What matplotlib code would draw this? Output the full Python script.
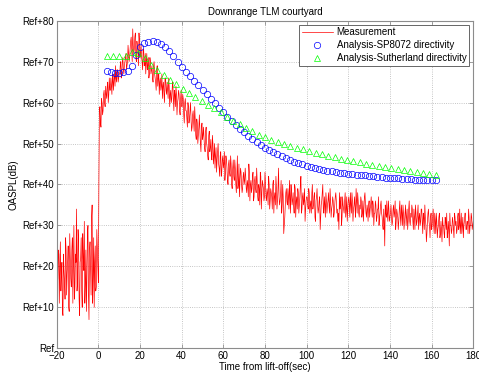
import numpy as np
import matplotlib
matplotlib.use("Agg")
import matplotlib.pyplot as plt

# =====================================
# Data
# =====================================
# measurement on the half-second grid, -20 s .. 180 s
meas_t = np.arange(-20, 180.01, 0.5)
meas_pre = [
    22, 17, 23, 20, 14, 21, 8, 19, 12, 24,
    18, 25, 9, 22, 15, 27, 20, 12, 23, 34,
    16, 26, 8, 22, 14, 28, 19, 11, 24, 17,
    30, 7, 26, 13, 35, 18, 10, 25, 15, 24,
    16,
]
meas_post = [
    58, 55, 61, 57, 62, 60, 64, 61, 65, 62, 63, 66, 62, 65, 67, 64, 66, 68, 65, 67,
    69, 66, 70, 68, 69, 71, 68, 70, 72, 71, 75, 73, 78, 72, 76, 71, 75, 72, 77, 71,
    74, 70, 73, 69, 72, 70, 68, 71, 67, 70, 68, 66, 69, 67, 65, 68, 64, 67, 65, 63,
    67, 64, 62, 66, 63, 65, 61, 64, 62, 60, 64, 61, 63, 59, 62, 60, 63, 58, 61, 59,
    62, 57, 60, 58, 56, 60, 55, 58, 56, 54, 58, 53, 56, 51, 55, 52, 57, 50, 54, 51,
    54, 49, 53, 50, 47, 52, 48, 51, 46, 50, 47, 44, 49, 46, 50, 44, 47, 42, 46, 44,
    48, 43, 46, 41, 45, 43, 47, 40, 44, 42, 46, 40, 43, 39, 45, 41, 43, 38, 42, 40,
    44, 39, 41, 37, 43, 40, 38, 42, 36, 41, 39, 44, 37, 40, 35, 42, 38, 40, 36, 43,
    37, 39, 35, 40, 36, 38, 34, 41, 37, 35, 39, 36, 44, 35, 38, 33, 40, 28, 32, 38,
    36, 39, 34, 37, 40, 35, 38, 33, 39, 36, 34, 38, 35, 40, 33, 37, 35, 39, 34, 37,
    35, 39, 33, 36, 38, 34, 37, 32, 36, 39, 33, 36, 29, 35, 38, 34, 37, 32, 36, 35,
    38, 33, 36, 34, 37, 32, 35, 38, 33, 31, 29, 34, 37, 32, 35, 33, 38, 34, 31, 36,
    35, 38, 33, 36, 34, 37, 32, 36, 38, 33, 35, 37, 32, 36, 34, 38, 33, 35, 31, 36,
    34, 37, 32, 35, 33, 36, 31, 34, 37, 32, 35, 33, 30, 34, 25, 33, 36, 31, 34, 32,
    35, 30, 34, 32, 36, 31, 33, 29, 34, 32, 35, 30, 33, 31, 35, 32, 29, 34, 31, 33,
    35, 31, 34, 29, 33, 31, 35, 32, 30, 34, 31, 33, 29, 32, 26, 31, 34, 30, 32, 29,
    32, 30, 33, 28, 31, 29, 32, 27, 31, 26, 30, 28, 32, 29, 27, 31, 25, 30, 28, 32,
    29, 33, 30, 28, 32, 29, 34, 30, 28, 32, 30, 33, 29, 31, 28, 32, 30, 33, 29, 31,
]
meas_db = meas_pre + meas_post

# measurement samples in between (the quarter points), -19.75 s .. 179.75 s
mid_t = np.arange(-19.75, 180, 0.5)
mid_pre = [
    15, 24, 11, 26, 18, 9, 23, 16, 27, 13,
    21, 10, 28, 17, 24, 11, 30, 15, 21, 14,
    29, 12, 21, 27, 10, 22, 31, 16, 9, 28,
    13, 24, 19, 32, 11, 27, 21, 14, 29, 20,
]
mid_post = [
    40, 59, 54, 60, 58, 63, 59, 62, 64, 60, 66, 63, 64, 67, 63, 66, 69, 65, 68, 66,
    67, 70, 67, 71, 67, 70, 72, 69, 74, 70, 73, 76, 70, 74, 73, 77, 70, 74, 69, 75,
    72, 71, 68, 73, 69, 67, 72, 69, 66, 71, 67, 69, 65, 70, 66, 63, 69, 66, 62, 66,
    64, 61, 65, 60, 66, 62, 63, 66, 59, 63, 61, 65, 58, 62, 64, 57, 61, 62, 57, 63,
    59, 61, 55, 61, 58, 54, 59, 56, 60, 53, 57, 55, 59, 52, 56, 50, 54, 53, 48, 55,
    52, 51, 48, 54, 49, 46, 53, 49, 47, 52, 45, 50, 47, 43, 48, 45, 42, 48, 43, 47,
    45, 41, 47, 44, 40, 46, 42, 45, 39, 46, 41, 44, 38, 47, 40, 37, 44, 40, 39, 43,
    41, 42, 38, 40, 45, 36, 41, 39, 43, 37, 42, 38, 41, 36, 39, 43, 34, 41, 39, 37,
    40, 36, 38, 42, 34, 39, 37, 40, 33, 38, 42, 34, 39, 37, 36, 41, 35, 37, 30, 35,
    39, 35, 37, 41, 33, 38, 36, 35, 40, 32, 37, 39, 33, 37, 42, 34, 38, 36, 31, 36,
    37, 34, 38, 35, 33, 40, 35, 38, 31, 37, 35, 34, 37, 32, 36, 40, 33, 35, 38, 33,
    36, 35, 39, 32, 35, 36, 33, 37, 36, 34, 33, 38, 35, 30, 37, 34, 36, 32, 37, 34,
    37, 32, 35, 38, 31, 35, 34, 39, 33, 36, 32, 34, 36, 33, 31, 37, 35, 32, 34, 35,
    32, 35, 34, 36, 30, 33, 35, 32, 34, 30, 33, 36, 32, 29, 31, 35, 32, 33, 36, 31,
    33, 32, 31, 35, 33, 29, 34, 32, 31, 36, 30, 33, 35, 29, 33, 30, 34, 31, 36, 30,
    32, 34, 29, 32, 35, 30, 33, 29, 33, 31, 34, 28, 32, 35, 30, 28, 33, 31, 27, 33,
    30, 34, 28, 31, 33, 27, 30, 33, 28, 29, 32, 30, 27, 31, 33, 28, 29, 33, 30, 29,
    31, 27, 32, 31, 29, 33, 30, 28, 33, 30, 27, 31, 33, 29, 31, 34, 28, 30, 32, 30,
]
mid_db = mid_pre + mid_post

# analysis with SP8072 directivity
sp_t = np.arange(4, 162.01, 2)
sp_db = [
    67.6, 67.4, 67.3, 67.3, 67.4, 67.8, 69.0, 71.6, 73.6, 74.5,
    74.9, 75.0, 74.8, 74.3, 73.5, 72.5, 71.3, 70.0, 68.7, 67.5,
    66.4, 65.3, 64.2, 63.1, 62.0, 60.9, 59.8, 58.7, 57.6, 56.6,
    55.6, 54.6, 53.6, 52.7, 51.8, 51.0, 50.3, 49.6, 49.0, 48.4,
    47.9, 47.4, 46.9, 46.4, 46.0, 45.6, 45.2, 44.9, 44.6, 44.3,
    44.0, 43.8, 43.6, 43.4, 43.2, 43.0, 42.9, 42.7, 42.6, 42.5,
    42.4, 42.3, 42.2, 42.1, 42.0, 41.9, 41.8, 41.7, 41.6, 41.5,
    41.5, 41.4, 41.3, 41.3, 41.2, 41.2, 41.1, 41.1, 41.0, 41.0,
]

# analysis with Sutherland directivity
su_t = np.linspace(4, 162, 53)
su_db = [
    71.3, 71.3, 71.3, 71.4, 72.4, 72.0, 70.8, 69.3, 68.0, 66.8,
    65.6, 64.5, 63.3, 62.3, 61.4, 60.5, 59.5, 58.6, 57.6, 56.6,
    55.6, 54.7, 53.8, 53.0, 52.2, 51.5, 50.9, 50.4, 49.9, 49.5,
    49.0, 48.6, 48.2, 47.8, 47.4, 47.0, 46.7, 46.3, 46.0, 45.7,
    45.4, 45.1, 44.8, 44.5, 44.2, 44.0, 43.7, 43.5, 43.2, 43.0,
    42.8, 42.5, 42.3,
]

x_ticks = list(range(-20, 181, 20))
y_ticks = list(range(0, 81, 10))
y_labels = ["Ref"] + ["Ref+%d" % v for v in y_ticks[1:]]

# merge both measurement grids into one time-ordered trace
all_t = np.concatenate([meas_t, mid_t])
all_db = np.concatenate([meas_db, mid_db])
order = np.argsort(all_t)
all_t = all_t[order]
all_db = all_db[order]

# =====================================
# Plot
# =====================================
plt.rcParams["font.family"] = ["Liberation Sans", "DejaVu Sans"]
plt.rcParams["font.size"] = 7

fig = plt.figure(figsize=(4.79, 3.74), dpi=100)
ax = fig.add_axes([0.1184, 0.0687, 0.8696, 0.876])

ax.plot(all_t, all_db, color="red", linewidth=0.5, label="Measurement")
ax.plot(sp_t, sp_db, linestyle="none", marker="o", markersize=4.6,
        markerfacecolor="none", markeredgecolor="blue", markeredgewidth=0.5,
        label="Analysis-SP8072 directivity")
ax.plot(su_t, su_db, linestyle="none", marker="^", markersize=4.6,
        markerfacecolor="none", markeredgecolor="#00ff00", markeredgewidth=0.5,
        label="Analysis-Sutherland directivity")

ax.set_xlim(-20, 180)
ax.set_ylim(0, 80)
ax.set_xticks(x_ticks)
ax.set_yticks(y_ticks)
ax.set_yticklabels(y_labels)
ax.tick_params(direction="in", length=3, width=0.5, top=True, right=True,
               colors="0.5", labelcolor="black", pad=2)
ax.grid(True, linestyle=":", color="0.7", linewidth=0.6)
for s in ax.spines.values():
    s.set_color("0.55")
    s.set_linewidth(0.8)

ax.set_title("Downrange TLM courtyard", fontsize=7, pad=4)
ax.set_xlabel("Time from lift-off(sec)", labelpad=1)
ax.set_ylabel("OASPL(dB)", labelpad=3)

leg = ax.legend(loc="upper right", fontsize=7, fancybox=False,
                edgecolor="0.3", framealpha=1, handlelength=3.2,
                handletextpad=0.4, borderaxespad=0.4, labelspacing=0.3,
                borderpad=0.3)
leg.get_frame().set_linewidth(0.6)

plt.savefig("out.png", dpi=100)
